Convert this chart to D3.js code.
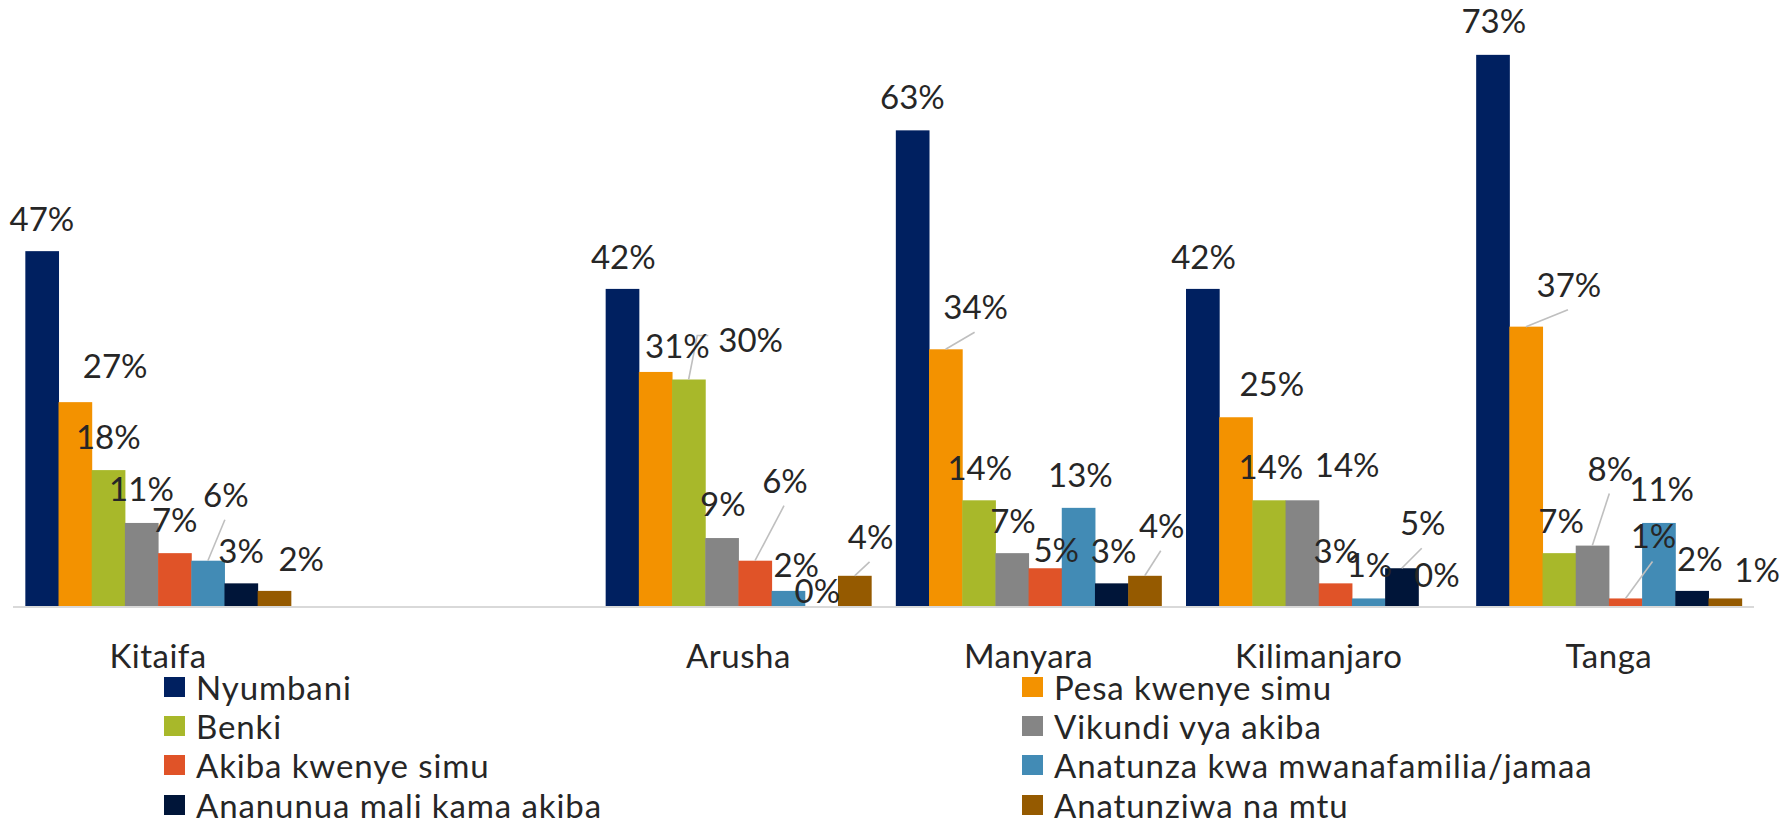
<!DOCTYPE html>
<html>
<head>
<meta charset="utf-8">
<script src="https://cdn.jsdelivr.net/npm/d3@7"></script>
<style>
  html, body { margin: 0; padding: 0; background: #ffffff; }
  svg { display: block; }
  text { font-family: Lato, "Open Sans", sans-serif; fill: #262626; }
</style>
</head>
<body>
<svg id="chart" width="1783" height="824"></svg>
<script>
// Categories (regions); the second slot is an empty category left blank in the chart
const categories = ["Kitaifa", "", "Arusha", "Manyara", "Kilimanjaro", "Tanga"];

// Savings places (series)
const seriesNames = [
  "Nyumbani",
  "Pesa kwenye simu",
  "Benki",
  "Vikundi vya akiba",
  "Akiba kwenye simu",
  "Anatunza kwa mwanafamilia/jamaa",
  "Ananunua mali kama akiba",
  "Anatunziwa na mtu"
];

// Percent values per series, in category order
const nyumbani    = [47, null, 42, 63, 42, 73];
const pesaSimu    = [27, null, 31, 34, 25, 37];
const benki       = [18, null, 30, 14, 14, 7];
const vikundi     = [11, null, 9, 7, 14, 8];
const akibaSimu   = [7, null, 6, 5, 3, 1];
const anatunza    = [6, null, 2, 13, 1, 11];
const ananunua    = [3, null, 0, 3, 5, 2];
const anatunziwa  = [2, null, 4, 4, 0, 1];

const seriesValues = [nyumbani, pesaSimu, benki, vikundi, akibaSimu, anatunza, ananunua, anatunziwa];

const colors = ["#002060", "#F39200", "#A8B82A", "#858585", "#E05328", "#428BB5", "#001539", "#955A00"];

// Hand-placed data label nudges: [dx from bar centre, baseline gap above bar top, leader line]
const labelNudges = {
  "Kitaifa":     [[0,20,0],[40,24,0],[0,21,0],[0,22,0],[0,21,0],[18,54,1],[0,20,0],[27,20,0]],
  "Arusha":      [[1,20,0],[22,14,0],[62,28,2],[1,22,0],[30,68,1],[8,14,0],[-4,3,0],[16,27,1]],
  "Manyara":     [[0,21,0],[30,30,1],[1,20,0],[1,20,0],[11,6,0],[2,21,0],[2,20,0],[17,38,1]],
  "Kilimanjaro": [[1,20,0],[36,21,0],[2,21,0],[45,23,0],[1,20,0],[1,21,0],[21,33,1],[2,19,0]],
  "Tanga":       [[1,22,0],[43,30,1],[2,20,0],[18,65,1],[28,50,1],[3,22,0],[8,20,0],[32,16,0]]
};

const svg = d3.select("#chart");
const fontSize = 33;

const x0 = d3.scaleBand()
  .domain(categories.map((c, i) => i))
  .range([13, 1754])
  .paddingInner(0.085)
  .paddingOuter(0.0425);

const x1 = d3.scaleBand()
  .domain(seriesNames)
  .range([0, x0.bandwidth()]);

const y = d3.scaleLinear().domain([0, 80]).range([606, 2]);

// Bars
const groups = svg.append("g").selectAll("g")
  .data(categories.map((c, ci) => ({ c, ci })).filter(d => d.c !== ""))
  .join("g")
  .attr("transform", d => `translate(${x0(d.ci)},0)`);

const barData = d => seriesNames.map((s, si) => ({
  cat: d.c, ci: d.ci, s, si, v: seriesValues[si][d.ci]
}));

groups.selectAll("rect")
  .data(barData)
  .join("rect")
  .attr("x", d => x1(d.s))
  .attr("y", d => y(d.v))
  .attr("width", x1.bandwidth() + 0.5)
  .attr("height", d => y(0) - y(d.v))
  .attr("fill", d => colors[d.si]);

// Category axis line
svg.append("line")
  .attr("x1", x0.range()[0]).attr("x2", x0.range()[1])
  .attr("y1", y(0) + 1).attr("y2", y(0) + 1)
  .attr("stroke", "#d9d9d9").attr("stroke-width", 2);

// Category labels
const xAxis = d3.axisBottom(x0).tickSize(0).tickFormat(i => categories[i]);
const axisG = svg.append("g").attr("transform", `translate(0,${y(0)})`).call(xAxis);
axisG.select(".domain").remove();
axisG.selectAll("text")
  .attr("y", 62).attr("dy", 0)
  .style("font-family", "Lato, 'Open Sans', sans-serif")
  .style("font-size", fontSize + "px")
  .style("letter-spacing", "0.5px")
  .style("fill", "#262626");

// Data labels and leader lines
groups.each(function(d) {
  const g = d3.select(this);
  barData(d).forEach(b => {
    const [dx, gap, leader] = labelNudges[b.cat][b.si];
    const cx = x1(b.s) + x1.bandwidth() / 2;
    const top = y(b.v);
    const lx = cx + dx;
    const ly = top - gap;
    const t = g.append("text")
      .attr("x", lx).attr("y", ly)
      .attr("text-anchor", "middle")
      .style("font-size", fontSize + "px")
      .text(b.v + "%");
    if (leader === 1) {
      g.insert("line", "text")
        .attr("x1", cx).attr("y1", top)
        .attr("x2", lx - 1).attr("y2", ly + 13)
        .attr("stroke", "#bfbfbf").attr("stroke-width", 1.6);
    } else if (leader === 2) {
      const w = t.node().getComputedTextLength();
      const left = lx - w / 2;
      g.insert("polyline", "text")
        .attr("points", [[cx, top], [left - 21, ly - 16], [left - 10, ly - 16]].map(p => p.join(",")).join(" "))
        .attr("fill", "none")
        .attr("stroke", "#bfbfbf").attr("stroke-width", 1.6);
    }
  });
});

// Legend: two columns, series alternate between them
const legendCols = [164, 1022];
const legendRows = [700, 739, 778, 818];
const legend = svg.append("g").selectAll("g")
  .data(seriesNames)
  .join("g")
  .attr("transform", (s, i) => `translate(${legendCols[i % 2]},${legendRows[Math.floor(i / 2)]})`);

legend.append("rect")
  .attr("x", 0).attr("y", -23)
  .attr("width", 21).attr("height", 20)
  .attr("fill", (s, i) => colors[i]);

legend.append("text")
  .attr("x", 32).attr("y", 0)
  .style("font-size", fontSize + "px")
  .style("letter-spacing", "0.9px")
  .text(s => s);
</script>
</body>
</html>
